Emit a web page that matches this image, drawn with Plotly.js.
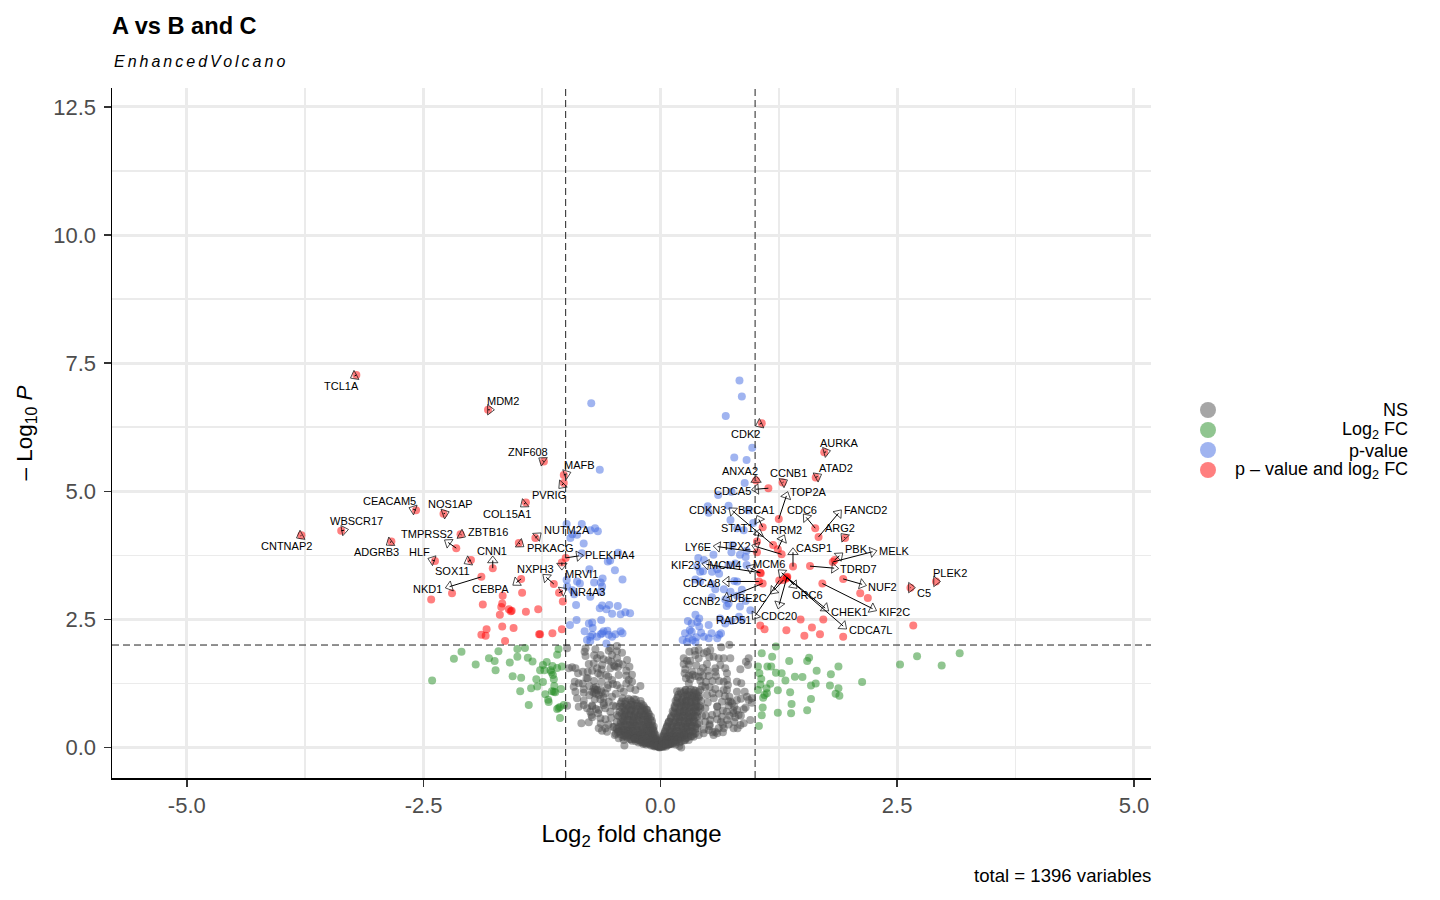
<!DOCTYPE html>
<html><head><meta charset="utf-8">
<script src="https://cdn.plot.ly/plotly-3.0.1.min.js"></script>
<style>
html,body{margin:0;padding:0;background:#fff}
#chart{width:1440px;height:900px}
text[data-unformatted="EnhancedVolcano"]{letter-spacing:3px}
</style></head><body><div id="chart"></div>
<script>
// Not-significant genes, sparse outer part
const nsLeftX=[-0.985,-0.79,-0.80,-0.79,-0.686,-0.528,-0.458,-0.545,-0.51,-0.405,-0.633,-0.668,-0.458,-0.352,-0.44,-0.45,-0.327,-0.616,-0.704,-0.756,-0.528,-0.44,-0.967,-0.932,-0.897,-0.869,-0.82,-0.767,-0.721,-0.668,-0.658,-0.633,-0.574,-0.767,-0.51,-0.334,-0.211,-0.299,-0.904,-0.862,-0.915,-0.897,-0.809,-0.704,-0.668,-0.721,-0.651,-0.58,-0.51,-0.422,-0.387,-0.317,-0.264,-0.809,-0.88,-0.809,-0.693,-0.633,-0.545,-0.985,-0.862,-0.809,-0.774,-0.651,-0.658,-0.728,-0.598,-0.58,-0.528,-0.458,-0.834,-0.756,-0.633,-0.721,-0.651,-0.58,-0.616,-0.563,-0.482,-0.44,-0.387,-0.69,-0.68,-0.70,-0.62,-0.60,-0.50,-0.56,-0.74,-0.47,-0.36,-0.49,-0.55,-0.63,-0.72];
const nsLeftY=[1.935,1.935,1.87,1.785,1.916,1.935,1.98,1.89,1.805,1.85,1.805,1.74,1.74,1.708,1.643,1.565,1.578,1.61,1.643,1.63,1.545,1.415,1.545,1.565,1.545,1.447,1.48,1.48,1.50,1.545,1.447,1.415,1.415,1.35,1.317,1.317,1.20,1.285,1.285,1.252,1.187,1.09,1.135,1.155,1.12,1.09,1.025,1.057,0.992,1.155,1.09,1.155,1.12,1.07,0.96,0.914,0.94,0.94,0.894,0.816,0.797,0.83,0.764,0.732,0.667,0.634,0.83,0.764,0.699,0.634,0.472,0.491,0.569,0.589,0.374,0.374,0.328,0.309,0.244,0.179,0.146,1.13,1.18,1.07,1.08,0.87,1.24,1.16,0.70,0.80,1.40,1.60,1.70,1.12,0.80];
const nsLeftMoreX=[-0.78,-0.62,-0.55,-0.48,-0.40,-0.52,-0.60,-0.70,-0.46,-0.36,-0.30,-0.36,-0.46,-0.55,-0.62,-0.70,-0.82,-0.75,-0.75,-0.68,-0.60,-0.47,-0.72,-0.68,-0.50,-0.52,-0.58,-0.63,-0.55,-0.50];
const nsLeftMoreY=[1.35,1.52,1.38,1.58,1.62,1.68,1.72,1.80,1.88,1.50,1.42,1.25,1.22,1.22,1.28,1.30,1.25,1.20,1.02,1.05,0.98,1.05,0.82,0.75,0.82,0.58,0.55,0.47,0.45,0.40];
const nsRightX=[0.728,0.643,0.527,0.492,0.404,0.362,0.306,0.369,0.457,0.246,0.281,0.316,0.404,0.517,0.562,0.615,0.668,0.738,0.932,0.903,0.925,0.492,0.246,0.263,0.633,0.58,0.685,0.844,0.256,0.334,0.422,0.58,0.703,0.369,0.404,0.51,0.587,0.27,0.316,0.422,0.703,0.668,0.808,0.854,0.474,0.713,0.58,0.176,0.263,0.351,0.668,0.703,0.808,0.89,0.492,0.563,0.728,0.914,0.967,0.932,0.808,0.404,0.65,0.756,0.967,0.474,0.422,0.879,0.808,0.773,0.826,0.791,0.597,0.545,0.65,0.703,0.474,0.527,0.949,0.879,0.844,0.773,0.815,0.668,0.615,0.562,0.58,0.51,0.404,0.457,0.351,0.299,0.72,0.77,0.74,0.60,0.64,0.66,0.52,0.30,0.34];
const nsRightY=[2.007,1.955,1.903,1.87,1.903,1.89,1.87,1.805,1.838,1.74,1.695,1.695,1.74,1.76,1.773,1.74,1.74,1.74,1.74,1.675,1.61,1.63,1.63,1.525,1.61,1.545,1.545,1.525,1.447,1.48,1.48,1.48,1.447,1.395,1.38,1.395,1.395,1.35,1.33,1.304,1.317,1.285,1.285,1.252,1.174,1.22,1.142,1.10,1.12,1.12,1.12,1.12,1.09,1.09,1.025,0.96,0.992,0.992,0.96,0.927,0.927,0.96,0.894,0.862,0.875,0.764,0.764,0.745,0.732,0.667,0.634,0.589,0.667,0.634,0.602,0.536,0.504,0.536,0.536,0.471,0.44,0.374,0.374,0.374,0.374,0.244,0.309,0.341,0.244,0.276,0.21,0.146,0.82,0.72,0.90,0.80,0.50,0.45,0.42,1.25,1.42];
const nsRightMoreX=[0.30,0.38,0.45,0.50,0.45,0.30,0.55,0.48,0.62,0.62,0.55,0.68,0.72,0.78,0.60,0.50,0.66,0.70,0.73,0.60,0.48,0.52,0.44,0.46,0.55,0.60,0.66,0.72,0.78,0.85,0.90,0.85,0.52,0.44];
const nsRightMoreY=[1.62,1.60,1.55,1.50,1.40,1.40,1.30,1.28,1.30,1.05,1.06,1.00,0.90,0.80,0.80,0.88,0.72,0.70,0.62,0.55,0.62,0.45,0.62,0.35,0.30,0.28,0.30,0.45,0.50,0.62,0.78,0.95,1.18,1.20];
// Not-significant genes, dense funnel at the origin
const nsCoreLeftX=[-0.40,-0.34,-0.28,-0.37,-0.30,-0.42,-0.37,-0.31,-0.25,-0.20,-0.39,-0.33,-0.27,-0.22,-0.17,-0.40,-0.35,-0.30,-0.25,-0.19,-0.15,-0.38,-0.32,-0.27,-0.21,-0.17,-0.13,-0.41,-0.36,-0.31,-0.26,-0.21,-0.16,-0.12,-0.38,-0.33,-0.28,-0.23,-0.18,-0.14,-0.10,-0.40,-0.35,-0.30,-0.25,-0.20,-0.15,-0.11,-0.42,-0.38,-0.32,-0.28,-0.22,-0.17,-0.13,-0.09,-0.42,-0.37,-0.32,-0.27,-0.22,-0.17,-0.13,-0.09,-0.44,-0.39,-0.34,-0.29,-0.24,-0.19,-0.15,-0.11,-0.08,-0.46,-0.41,-0.36,-0.31,-0.26,-0.21,-0.16,-0.12,-0.08,-0.43,-0.38,-0.33,-0.28,-0.23,-0.19,-0.14,-0.10,-0.07,-0.47,-0.42,-0.37,-0.32,-0.27,-0.22,-0.18,-0.14,-0.10,-0.06,-0.38,-0.33,-0.28,-0.24,-0.19,-0.15,-0.11,-0.08,-0.05,-0.40,-0.35,-0.30,-0.25,-0.21,-0.17,-0.13,-0.09,-0.05,-0.32,-0.27,-0.23,-0.19,-0.15,-0.11,-0.08,-0.05,-0.04,-0.30,-0.26,-0.22,-0.18,-0.14,-0.10,-0.07,-0.04,-0.20,-0.17,-0.13,-0.10,-0.07,-0.05,-0.03,-0.18,-0.15,-0.12,-0.09,-0.06,-0.03,-0.08,-0.05,-0.03,-0.02,-0.06,-0.04,-0.02,-0.01,-0.01,-0.02];
const nsCoreLeftY=[0.96,0.95,0.94,0.90,0.89,0.86,0.85,0.84,0.86,0.85,0.80,0.79,0.81,0.80,0.78,0.76,0.75,0.74,0.75,0.76,0.74,0.70,0.71,0.69,0.70,0.71,0.68,0.66,0.65,0.64,0.66,0.65,0.63,0.65,0.60,0.61,0.59,0.60,0.61,0.58,0.60,0.56,0.55,0.54,0.55,0.56,0.54,0.55,0.50,0.51,0.49,0.50,0.51,0.48,0.50,0.49,0.46,0.45,0.44,0.45,0.46,0.44,0.45,0.43,0.40,0.41,0.39,0.40,0.41,0.38,0.40,0.39,0.38,0.36,0.35,0.34,0.35,0.36,0.34,0.35,0.33,0.34,0.31,0.30,0.32,0.30,0.31,0.29,0.30,0.31,0.30,0.27,0.26,0.28,0.27,0.26,0.28,0.27,0.25,0.26,0.24,0.23,0.24,0.22,0.23,0.24,0.22,0.23,0.21,0.20,0.20,0.19,0.21,0.20,0.19,0.21,0.20,0.18,0.17,0.16,0.17,0.15,0.16,0.17,0.15,0.16,0.14,0.13,0.13,0.12,0.14,0.13,0.12,0.14,0.12,0.11,0.10,0.09,0.10,0.09,0.10,0.08,0.09,0.07,0.06,0.07,0.08,0.06,0.05,0.04,0.05,0.04,0.03,0.02,0.03,0.02,0.01,0.00,0.01,0.04];
const nsCoreLeftMoreX=[-0.38,-0.32,-0.26,-0.21,-0.41,-0.35,-0.29,-0.24,-0.18,-0.43,-0.37,-0.31,-0.26,-0.20,-0.14,-0.43,-0.38,-0.33,-0.28,-0.23,-0.18,-0.13,-0.44,-0.39,-0.34,-0.29,-0.24,-0.18,-0.13,-0.09,-0.46,-0.41,-0.35,-0.30,-0.25,-0.20,-0.15,-0.11,-0.07,-0.49,-0.44,-0.39,-0.34,-0.29,-0.24,-0.19,-0.14,-0.10,-0.07,-0.45,-0.39,-0.34,-0.29,-0.24,-0.20,-0.16,-0.12,-0.08,-0.05,-0.36,-0.31,-0.27,-0.23,-0.19,-0.15,-0.11,-0.07,-0.04,-0.27,-0.23,-0.19,-0.15,-0.11,-0.08,-0.05,-0.03,-0.13,-0.10,-0.07,-0.05,-0.03,-0.02];
const nsCoreLeftMoreY=[0.92,0.93,0.91,0.90,0.82,0.83,0.81,0.82,0.80,0.72,0.73,0.71,0.72,0.73,0.70,0.62,0.63,0.61,0.62,0.63,0.60,0.61,0.52,0.53,0.51,0.52,0.53,0.50,0.52,0.50,0.42,0.43,0.41,0.42,0.43,0.40,0.42,0.41,0.40,0.32,0.33,0.31,0.32,0.33,0.30,0.32,0.31,0.33,0.30,0.24,0.25,0.23,0.24,0.25,0.22,0.24,0.23,0.25,0.22,0.16,0.17,0.15,0.16,0.17,0.14,0.16,0.15,0.17,0.10,0.11,0.09,0.10,0.11,0.08,0.10,0.09,0.04,0.05,0.03,0.04,0.05,0.03];
const nsCoreRightX=[0.20,0.25,0.30,0.35,0.40,0.22,0.28,0.33,0.38,0.19,0.24,0.29,0.34,0.39,0.18,0.23,0.27,0.32,0.37,0.16,0.21,0.26,0.31,0.36,0.18,0.23,0.28,0.33,0.38,0.15,0.20,0.25,0.30,0.35,0.40,0.16,0.21,0.26,0.31,0.37,0.13,0.18,0.23,0.28,0.33,0.38,0.15,0.20,0.25,0.30,0.36,0.12,0.17,0.22,0.27,0.32,0.37,0.11,0.16,0.20,0.25,0.30,0.35,0.09,0.14,0.19,0.24,0.29,0.34,0.39,0.08,0.12,0.17,0.22,0.27,0.32,0.37,0.07,0.12,0.17,0.22,0.27,0.32,0.37,0.06,0.10,0.14,0.19,0.24,0.29,0.34,0.05,0.10,0.15,0.20,0.25,0.30,0.35,0.04,0.08,0.12,0.17,0.22,0.27,0.32,0.03,0.07,0.11,0.15,0.19,0.23,0.27,0.03,0.06,0.09,0.13,0.17,0.21,0.25,0.02,0.05,0.08,0.11,0.14,0.17,0.20,0.02,0.04,0.07,0.10,0.13,0.16,0.01,0.03,0.05,0.07,0.09,0.11,0.01,0.02,0.04,0.06,0.01,0.02,0.03,0.01];
const nsCoreRightY=[1.08,1.09,1.07,1.08,1.06,1.03,1.02,1.04,1.03,0.98,0.99,0.97,0.98,0.96,0.93,0.92,0.94,0.93,0.91,0.88,0.89,0.87,0.88,0.86,0.83,0.84,0.82,0.83,0.81,0.78,0.79,0.77,0.78,0.79,0.76,0.73,0.74,0.72,0.73,0.71,0.68,0.69,0.67,0.68,0.69,0.66,0.63,0.64,0.62,0.63,0.61,0.58,0.59,0.57,0.58,0.59,0.56,0.53,0.54,0.52,0.53,0.54,0.51,0.48,0.49,0.47,0.48,0.49,0.46,0.47,0.43,0.44,0.42,0.43,0.44,0.41,0.42,0.38,0.39,0.37,0.38,0.39,0.36,0.37,0.33,0.34,0.32,0.33,0.34,0.31,0.32,0.28,0.29,0.27,0.28,0.29,0.26,0.27,0.24,0.25,0.23,0.24,0.25,0.22,0.23,0.20,0.21,0.19,0.20,0.21,0.18,0.19,0.16,0.17,0.15,0.16,0.17,0.14,0.15,0.12,0.13,0.11,0.12,0.13,0.10,0.11,0.09,0.10,0.08,0.09,0.10,0.07,0.06,0.07,0.05,0.06,0.07,0.05,0.03,0.04,0.02,0.03,0.02,0.01,0.02,0.00];
const nsCoreRightMoreX=[0.22,0.27,0.32,0.37,0.42,0.21,0.26,0.31,0.36,0.41,0.18,0.23,0.28,0.33,0.38,0.43,0.17,0.22,0.27,0.32,0.37,0.42,0.15,0.20,0.25,0.30,0.35,0.40,0.14,0.19,0.24,0.29,0.34,0.39,0.11,0.16,0.21,0.26,0.31,0.36,0.41,0.09,0.14,0.19,0.24,0.29,0.34,0.39,0.07,0.12,0.17,0.22,0.27,0.32,0.37,0.05,0.09,0.13,0.17,0.21,0.25,0.29,0.33,0.03,0.06,0.09,0.12,0.15,0.18,0.22,0.26,0.02,0.04,0.06,0.08,0.10,0.13,0.16];
const nsCoreRightMoreY=[1.12,1.13,1.11,1.12,1.10,1.00,1.01,0.99,1.00,0.98,0.90,0.91,0.89,0.90,0.91,0.88,0.80,0.81,0.79,0.80,0.81,0.78,0.70,0.71,0.69,0.70,0.71,0.68,0.60,0.61,0.59,0.60,0.61,0.58,0.50,0.51,0.49,0.50,0.51,0.48,0.50,0.40,0.41,0.39,0.40,0.41,0.38,0.40,0.30,0.31,0.29,0.30,0.31,0.28,0.30,0.22,0.23,0.21,0.22,0.23,0.20,0.22,0.21,0.14,0.15,0.13,0.14,0.15,0.12,0.14,0.13,0.07,0.08,0.06,0.07,0.08,0.06,0.07];
// Log2 FC only
const fcX=[-2.41,-2.18,-2.10,-1.95,-1.81,-1.75,-1.74,-1.71,-1.59,-1.51,-1.43,-1.51,-1.40,-1.35,-1.56,-1.47,-1.31,-1.24,-1.30,-1.365,-1.48,-1.39,-1.20,-1.24,-1.27,-1.225,-1.14,-1.16,-1.09,-1.04,-1.15,-1.135,-1.125,-1.075,-1.09,-1.12,-1.05,-1.145,-1.125,-1.215,-1.11,-1.185,-1.18,-1.02,-1.06,-1.09,-1.075,-1.06,1.22,1.07,1.18,1.36,1.57,1.55,1.03,1.13,1.17,1.88,1.65,1.80,1.045,1.22,1.28,1.42,1.50,1.32,2.13,1.065,1.055,1.16,1.59,1.64,1.79,1.88,1.03,1.12,1.24,1.37,1.85,1.89,1.125,1.10,1.085,1.59,1.385,1.08,1.55,1.24,1.38,1.07,1.04,2.53,2.71,2.97,3.16];
const fcY=[1.31,1.73,1.87,1.62,1.74,1.69,1.51,1.88,1.66,1.92,1.94,1.77,1.75,1.68,1.39,1.36,1.33,1.28,1.19,1.155,1.10,0.83,1.67,1.61,1.51,1.51,1.59,1.51,1.55,1.58,1.47,1.415,1.33,1.92,1.81,1.20,1.14,1.10,1.09,1.04,1.08,0.93,0.89,0.83,0.79,0.75,0.77,0.575,1.97,1.84,1.77,1.69,1.75,1.69,1.58,1.58,1.58,1.58,1.50,1.43,1.45,1.46,1.45,1.38,1.375,1.31,1.28,1.34,1.23,1.245,1.21,1.25,1.21,1.155,1.12,1.155,1.115,1.08,1.05,1.01,1.06,1.025,0.97,0.945,0.85,0.78,0.725,0.68,0.67,0.63,0.42,1.62,1.78,1.60,1.84];
// p-value only
const pX=[-0.64,-0.73,-0.99,-0.83,-0.69,-0.66,-0.74,-0.93,-0.95,-0.88,-0.81,-0.83,-0.445,-0.555,-0.53,-0.48,-0.40,-0.75,-0.99,-0.88,-0.85,-0.61,-0.70,-0.63,-0.615,-0.985,-0.93,-0.91,-0.74,-0.63,-0.89,-0.64,-0.615,-0.54,-0.45,-0.57,-0.51,-0.42,-0.37,-0.32,-0.885,-0.955,-0.625,-0.755,-0.72,-0.80,-0.715,-0.72,-0.74,-0.775,-0.63,-0.60,-0.56,-0.615,-0.545,-0.475,-0.42,-0.40,-0.51,-0.57,-0.67,-0.74,0.835,0.86,0.69,0.97,0.78,0.91,0.89,0.75,0.61,0.50,0.51,0.72,0.74,0.93,0.98,0.88,0.81,0.76,0.56,0.91,0.84,0.75,0.90,0.40,0.46,0.39,0.45,0.60,0.545,0.72,0.42,0.62,0.79,0.91,0.37,0.42,0.78,0.54,0.67,0.58,0.86,0.81,0.74,0.545,0.685,0.81,0.72,0.70,0.90,0.84,0.95,0.29,0.37,0.41,0.39,0.33,0.63,0.75,0.86,0.83,0.685,0.41,0.31,0.51,0.26,0.33,0.43,0.54,0.62,0.60,0.30,0.235,0.28,0.34,0.38,0.46,0.37,0.51,0.64];
const pY=[5.42,6.72,4.36,4.36,4.28,4.22,4.24,4.16,4.09,4.15,3.98,3.79,3.80,3.63,3.65,3.46,3.28,3.48,3.27,3.24,3.20,3.30,3.22,3.22,3.14,3.14,3.07,2.99,2.94,3.04,2.78,2.72,2.77,2.78,2.76,2.70,2.61,2.60,2.64,2.62,2.49,2.39,2.49,2.42,2.44,2.27,2.33,2.20,2.16,2.10,2.21,2.27,2.28,2.23,2.20,2.21,2.27,2.23,2.16,2.03,2.16,2.08,7.16,6.85,6.47,5.85,5.66,5.61,5.16,4.99,4.93,4.71,4.58,4.72,4.44,4.63,4.38,4.24,4.28,3.95,3.76,3.84,3.76,3.81,3.72,3.70,3.66,3.53,3.44,3.48,3.43,3.56,3.43,3.39,3.59,3.56,3.28,3.24,3.25,3.19,3.09,3.09,3.08,3.24,3.04,2.93,2.89,2.96,2.81,2.76,2.86,2.75,2.68,2.47,2.59,2.52,2.45,2.42,2.52,2.47,2.49,2.55,2.42,2.36,2.29,2.39,2.23,2.26,2.24,2.23,2.20,2.13,2.13,2.10,2.06,2.10,2.15,2.16,2.06,2.13,2.23];
// p-value and log2 FC
const bothX=[1.07,1.73,1.64,1.29,1.01,1.14,1.25,1.635,1.67,1.95,1.08,1.19,1.24,1.02,1.02,1.28,1.40,1.58,1.82,1.84,1.93,1.71,2.64,2.91,2.11,2.19,1.055,1.06,1.04,1.08,1.335,1.33,1.34,1.255,1.30,1.48,1.72,2.67,1.055,1.10,1.33,1.52,1.685,1.93,1.60,-3.21,-1.82,-1.23,-1.42,-2.58,-2.29,-3.79,-3.37,-2.84,-2.11,-2.155,-2.38,-2.0,-1.77,-1.89,-2.20,-2.42,-1.47,-1.46,-1.665,-1.875,-1.67,-1.68,-1.695,-1.60,-1.57,-1.42,-1.29,-1.835,-1.67,-1.55,-1.89,-1.845,-1.64,-1.28,-1.495,-1.02,-1.02,-1.32,-1.0,-1.04,-1.125,-1.07,-1.03,-1.04,-1.14,-1.27,-1.58];
const bothY=[6.33,5.76,5.27,5.17,5.21,5.06,4.46,4.28,4.11,4.09,4.30,3.95,3.87,4.02,3.81,3.77,3.53,3.54,3.62,3.66,3.29,3.20,3.12,3.24,3.01,2.92,3.41,3.40,3.24,3.20,3.32,3.30,3.33,3.26,3.27,2.50,2.50,2.38,2.38,2.31,2.29,2.18,2.21,2.16,2.34,7.27,6.59,5.58,4.78,4.63,4.56,4.14,4.23,4.02,4.16,3.89,3.64,3.66,3.50,3.33,3.01,2.89,3.29,3.02,2.96,2.79,2.81,2.74,2.59,2.70,2.67,2.65,2.70,2.31,2.36,2.33,2.20,2.18,2.08,2.21,3.99,5.32,5.16,4.09,3.70,3.61,3.19,3.02,2.85,2.31,2.23,2.21,2.66];
// Labelled genes: gene position, arrow tip, label centre
const geneNames=["CDK2","AURKA","ATAD2","CCNB1","ANXA2","CDCA5","TOP2A","FANCD2","CDC6","ARG2","BRCA1","CDKN3","STAT1","RRM2","TPX2","LY6E","CASP1","PBK","MELK","TDRD7","NUF2","C5","PLEK2","KIF2C","CHEK1","CDCA7L","ORC6","CDC20","UBE2C","RAD51","CCNB2","CDCA8","MCM6","MCM4","KIF23","TCL1A","MDM2","ZNF608","PVRIG","MAFB","COL15A1","CEACAM5","NOS1AP","CNTNAP2","WBSCR17","ADGRB3","TMPRSS2","ZBTB16","HLF","SOX11","CNN1","NKD1","CEBPA","PRKACG","NUTM2A","PLEKHA4","NXPH3","MRVI1","NR4A3"];
const geneX=[1.07,1.73,1.64,1.29,1.01,1.14,1.25,1.67,1.635,1.95,1.08,1.19,1.02,1.24,1.28,1.02,1.40,1.84,1.82,1.58,1.93,2.64,2.91,1.71,1.335,1.335,1.335,1.335,1.30,1.255,1.08,1.04,1.335,1.055,1.055,-3.21,-1.82,-1.23,-1.02,-1.02,-1.42,-2.58,-2.29,-3.79,-3.37,-2.84,-2.155,-2.11,-2.38,-2.0,-1.77,-1.89,-1.47,-1.495,-1.32,-1.0,-1.125,-1.04,-1.07];
const geneY=[6.33,5.76,5.27,5.17,5.21,5.06,4.46,4.11,4.28,4.09,4.30,3.95,4.02,3.87,3.77,3.81,3.53,3.66,3.62,3.54,3.29,3.12,3.24,3.20,3.32,3.32,3.32,3.32,3.27,3.26,3.20,3.24,3.32,3.41,3.41,7.27,6.59,5.58,5.16,5.32,4.78,4.63,4.56,4.14,4.23,4.02,3.89,4.16,3.64,3.66,3.50,3.33,3.29,3.99,4.09,3.70,3.19,3.61,3.02];
const tipX=[1.047,1.75,1.66,1.30,1.01,1.01,1.33,1.88,1.54,1.94,1.04,0.76,1.04,1.29,1.01,0.605,1.40,1.89,2.24,1.835,2.13,2.645,2.91,2.24,1.74,1.93,1.41,1.255,1.195,1.0,0.70,0.70,1.28,0.95,0.485,-3.23,-1.80,-1.245,-1.04,-0.99,-1.44,-2.61,-2.275,-3.80,-3.34,-2.855,-2.24,-2.10,-2.41,-2.03,-1.77,-2.225,-1.52,-1.48,-1.295,-0.86,-1.205,-1.04,-1.03];
const tipY=[6.31,5.77,5.29,5.18,5.22,5.04,4.91,4.57,4.49,4.11,4.45,4.62,4.18,4.07,3.92,3.92,3.81,3.74,3.82,3.50,3.185,3.12,3.24,2.71,2.72,2.37,3.17,2.79,3.06,2.57,2.92,3.24,3.41,3.50,3.575,7.25,6.59,5.60,5.12,5.34,4.75,4.65,4.57,4.13,4.24,4.00,4.00,4.15,3.66,3.63,3.65,3.14,3.22,3.97,4.13,3.74,3.32,3.55,3.06];
const labelX=[0.90,1.89,1.85,1.35,0.84,0.76,1.56,2.17,1.49,1.90,1.02,0.50,0.815,1.33,0.81,0.40,1.62,2.07,2.47,2.09,2.35,2.78,3.06,2.47,2.00,2.22,1.55,1.25,0.93,0.77,0.43,0.43,1.15,0.685,0.26,-3.37,-1.66,-1.40,-1.18,-0.85,-1.62,-2.86,-2.22,-3.945,-3.21,-3.0,-2.46,-1.82,-2.54,-2.19,-1.78,-2.455,-1.79,-1.17,-0.99,-0.53,-1.32,-0.83,-0.77];
const labelY=[6.12,5.94,5.45,5.35,5.40,5.00,4.99,4.63,4.635,4.29,4.635,4.635,4.29,4.245,3.93,3.92,3.89,3.87,3.835,3.48,3.13,3.01,3.40,2.64,2.645,2.29,2.98,2.57,2.91,2.49,2.86,3.22,3.58,3.56,3.56,7.05,6.76,5.76,4.93,5.51,4.56,4.81,4.75,3.93,4.42,3.81,4.17,4.21,3.81,3.44,3.835,3.09,3.09,3.89,4.245,3.76,3.48,3.38,3.03];
// Axes and legend text
const xTicks=[-5,-2.5,0,2.5,5];
const xTickText=["-5.0","-2.5","0.0","2.5","5.0"];
const yTicks=[0,2.5,5,7.5,10,12.5];
const yTickText=["0.0","2.5","5.0","7.5","10.0","12.5"];
const cutoffP=2, cutoffFC=1;
const legendNames=["NS","Log<sub>2</sub> FC","p-value","p – value and log<sub>2</sub> FC"];

const FAM='"Liberation Sans", Arial, sans-serif';
const INK=['#4d4d4d','#228b22','#4169e1','#ff0000'];
const GRID='#ebebeb';
const PW=1039, PH=690, PL=112, PT=88;
const px=v=>(v-PL)/PW, py=v=>(PT+PH-v)/PH;

const dots=(x,y,c,name)=>({type:'scatter',mode:'markers',x,y,name,showlegend:false,hoverinfo:'skip',cliponaxis:true,
  marker:{color:c,size:8,opacity:0.5,line:{width:0}}});

const segX=[],segY=[],segS=[];
geneNames.forEach((g,i)=>{segX.push(geneX[i],tipX[i],null);segY.push(geneY[i],tipY[i],null);segS.push(0,9,0);});

const traces=[
  dots(nsLeftX.concat(nsLeftMoreX,nsRightX,nsRightMoreX,nsCoreLeftX,nsCoreLeftMoreX,nsCoreRightX,nsCoreRightMoreX),
       nsLeftY.concat(nsLeftMoreY,nsRightY,nsRightMoreY,nsCoreLeftY,nsCoreLeftMoreY,nsCoreRightY,nsCoreRightMoreY),INK[0],'NS'),
  dots(fcX,fcY,INK[1],'Log2 FC'),
  dots(pX,pY,INK[2],'p-value'),
  dots(bothX,bothY,INK[3],'p - value and log2 FC'),
  {type:'scatter',mode:'lines+markers',x:segX,y:segY,showlegend:false,hoverinfo:'skip',connectgaps:false,
   line:{color:'#000',width:1},
   marker:{symbol:'triangle-up-open',size:segS,angleref:'previous',color:'#000',line:{color:'#000',width:1}}}
];

const annotations=geneNames.map((g,i)=>({x:labelX[i],y:labelY[i],xref:'x',yref:'y',text:g,showarrow:false,
  xanchor:'center',yanchor:'middle',font:{family:FAM,size:11,color:'#000'}}));
annotations.push({xref:'paper',yref:'paper',x:px(112),y:py(62),text:'EnhancedVolcano',showarrow:false,xanchor:'left',yanchor:'middle',
  font:{family:FAM,size:16,style:'italic',color:'#000'}});
annotations.push({xref:'paper',yref:'paper',x:px(1151),y:py(875),text:'total = 1396 variables',showarrow:false,xanchor:'right',yanchor:'middle',
  xshift:2,font:{family:FAM,size:18.6,color:'#000'}});
const legY=[410,430,451,470], keyY=[410,430,450,470];
const shapes=[
  {type:'line',xref:'paper',yref:'y',x0:0,x1:1,y0:cutoffP,y1:cutoffP,line:{color:'#222',width:1,dash:'7px,4px'},layer:'above'},
  {type:'line',xref:'x',yref:'paper',x0:-cutoffFC,x1:-cutoffFC,y0:0,y1:1,line:{color:'#222',width:1,dash:'7px,4px'},layer:'above'},
  {type:'line',xref:'x',yref:'paper',x0:cutoffFC,x1:cutoffFC,y0:0,y1:1,line:{color:'#222',width:1,dash:'7px,4px'},layer:'above'}
];
legendNames.forEach((n,i)=>{
  annotations.push({xref:'paper',yref:'paper',x:px(1408),y:py(legY[i]),text:n,showarrow:false,xanchor:'right',yanchor:'middle',xshift:2,
    font:{family:FAM,size:18,color:'#000'}});
  shapes.push({type:'circle',xref:'paper',yref:'paper',xsizemode:'pixel',ysizemode:'pixel',xanchor:px(1208),yanchor:py(keyY[i]),
    x0:-8,x1:8,y0:-8,y1:8,fillcolor:INK[i],opacity:.5,line:{width:0},layer:'above'});
});

const axisBase={showline:true,linecolor:'#000',linewidth:1.5,ticks:'outside',ticklen:7,tickwidth:1.5,tickcolor:'#333',
  showgrid:true,gridcolor:GRID,gridwidth:3,zeroline:false,tickmode:'array',
  tickfont:{family:FAM,size:22,color:'#4d4d4d'},
  minor:{showgrid:true,gridcolor:GRID,gridwidth:1.5,tickmode:'linear',tick0:0,dtick:1.25,ticks:''}};

const layout={width:1440,height:900,paper_bgcolor:'#fff',plot_bgcolor:'#fff',showlegend:false,
  margin:{l:PL,r:1440-PL-PW,t:PT,b:900-PT-PH,pad:0},
  font:{family:FAM},
  title:{text:'<b>A vs B and C</b>',xref:'container',yref:'container',x:112/1440,xanchor:'left',y:1-26/900,yanchor:'middle',
    font:{family:FAM,size:23.6,color:'#000'}},
  xaxis:Object.assign({},axisBase,{range:[-5.79,5.18],tickvals:xTicks,ticktext:xTickText,
    title:{text:'Log<sub>2</sub> fold change',standoff:8,font:{family:FAM,size:24,color:'#000'}}}),
  yaxis:Object.assign({},axisBase,{range:[-0.595,12.87],tickvals:yTicks,ticktext:yTickText,ticklabelstandoff:3,
    title:{text:'– Log<sub>10</sub> <i>P</i>',standoff:14,font:{family:FAM,size:22.5,color:'#000'}}}),
  annotations,shapes};

Plotly.newPlot('chart',traces,layout,{staticPlot:true,displayModeBar:false});
</script></body></html>
